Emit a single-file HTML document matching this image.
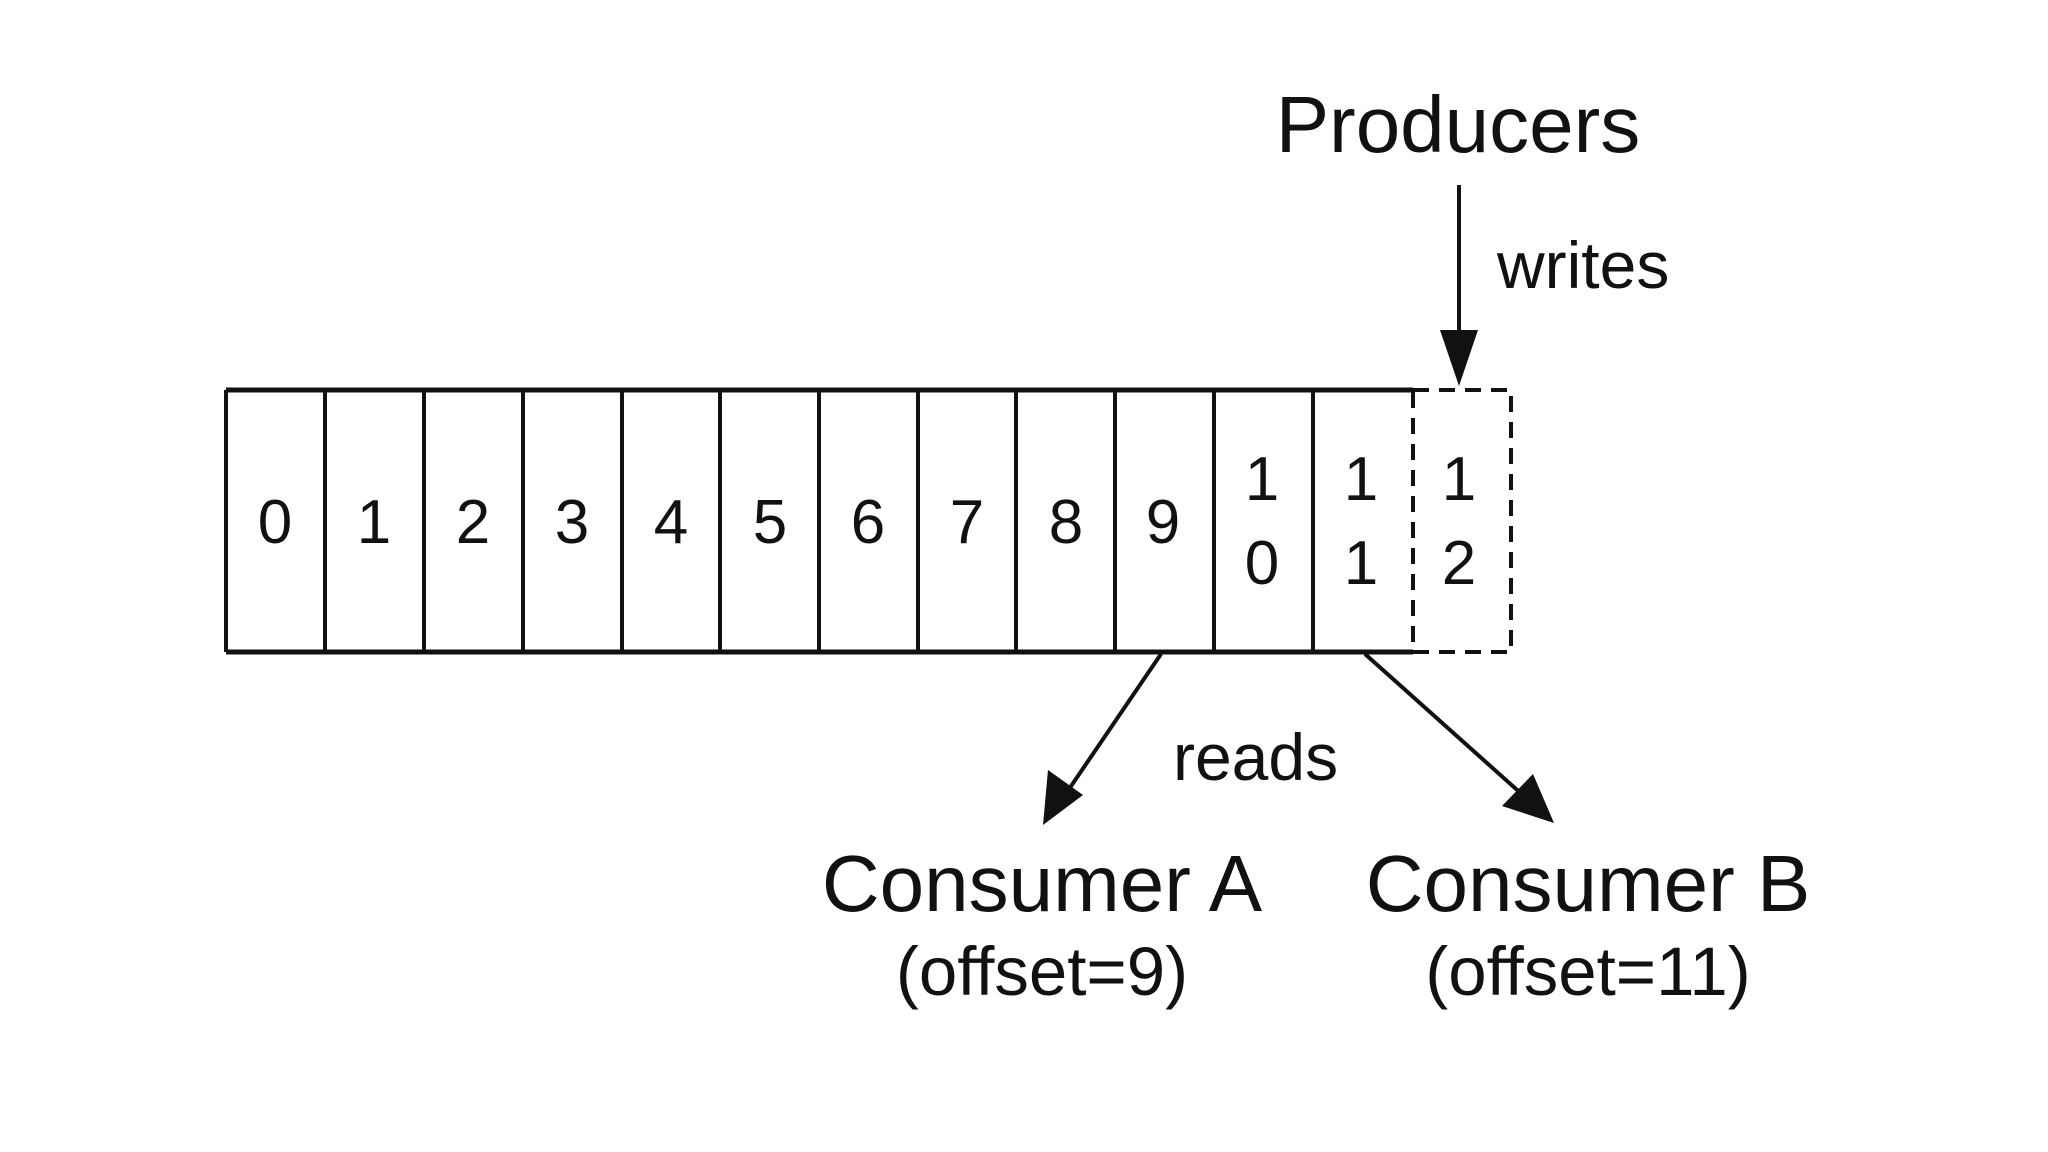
<!DOCTYPE html>
<html><head><meta charset="utf-8"><style>
html,body{margin:0;padding:0;background:#fff;}
svg{display:block;}
text{font-family:"Liberation Sans",sans-serif;fill:#111;}
</style></head><body>
<svg width="2048" height="1152" viewBox="0 0 2048 1152" xmlns="http://www.w3.org/2000/svg">
<rect width="2048" height="1152" fill="#fff"/>
<g stroke="#111" stroke-width="4" fill="none">
<line x1="226" y1="390" x2="1413" y2="390" stroke-width="5"/>
<line x1="226" y1="652" x2="1413" y2="652" stroke-width="5"/>
<line x1="226" y1="390" x2="226" y2="652"/>
<line x1="325" y1="390" x2="325" y2="652"/>
<line x1="424" y1="390" x2="424" y2="652"/>
<line x1="523" y1="390" x2="523" y2="652"/>
<line x1="622" y1="390" x2="622" y2="652"/>
<line x1="720" y1="390" x2="720" y2="652"/>
<line x1="819" y1="390" x2="819" y2="652"/>
<line x1="918" y1="390" x2="918" y2="652"/>
<line x1="1016" y1="390" x2="1016" y2="652"/>
<line x1="1115" y1="390" x2="1115" y2="652"/>
<line x1="1214" y1="390" x2="1214" y2="652"/>
<line x1="1313" y1="390" x2="1313" y2="652"/>
<path d="M1413 390 H1511 V652 H1413 V390" stroke-dasharray="16 10"/>
<line x1="1459" y1="185" x2="1459" y2="345"/>
<line x1="1161" y1="654" x2="1065" y2="795"/>
<line x1="1365" y1="654" x2="1525" y2="797"/>
</g>
<g fill="#111">
<polygon points="1440,330 1478,330 1459,386"/>
<polygon points="1043,825 1048,770 1083,795"/>
<polygon points="1554,823 1502,806 1533,774"/>
</g>
<g font-size="62" text-anchor="middle">
<text x="275" y="543">0</text>
<text x="374" y="543">1</text>
<text x="473" y="543">2</text>
<text x="572" y="543">3</text>
<text x="671" y="543">4</text>
<text x="770" y="543">5</text>
<text x="868" y="543">6</text>
<text x="967" y="543">7</text>
<text x="1066" y="543">8</text>
<text x="1163" y="543">9</text>
<text x="1262" y="500">1</text><text x="1262" y="584">0</text>
<text x="1361" y="500">1</text><text x="1361" y="584">1</text>
<text x="1459" y="500">1</text><text x="1459" y="584">2</text>
</g>
<text x="1458" y="152" font-size="80" text-anchor="middle">Producers</text>
<text x="1497" y="288" font-size="66">writes</text>
<text x="1173" y="780" font-size="66">reads</text>
<text x="1042" y="911" font-size="80" text-anchor="middle">Consumer A</text>
<text x="1042" y="995" font-size="69" text-anchor="middle">(offset=9)</text>
<text x="1588" y="911" font-size="80" text-anchor="middle">Consumer B</text>
<text x="1588" y="995" font-size="69" text-anchor="middle">(offset=11)</text>
</svg>
</body></html>
